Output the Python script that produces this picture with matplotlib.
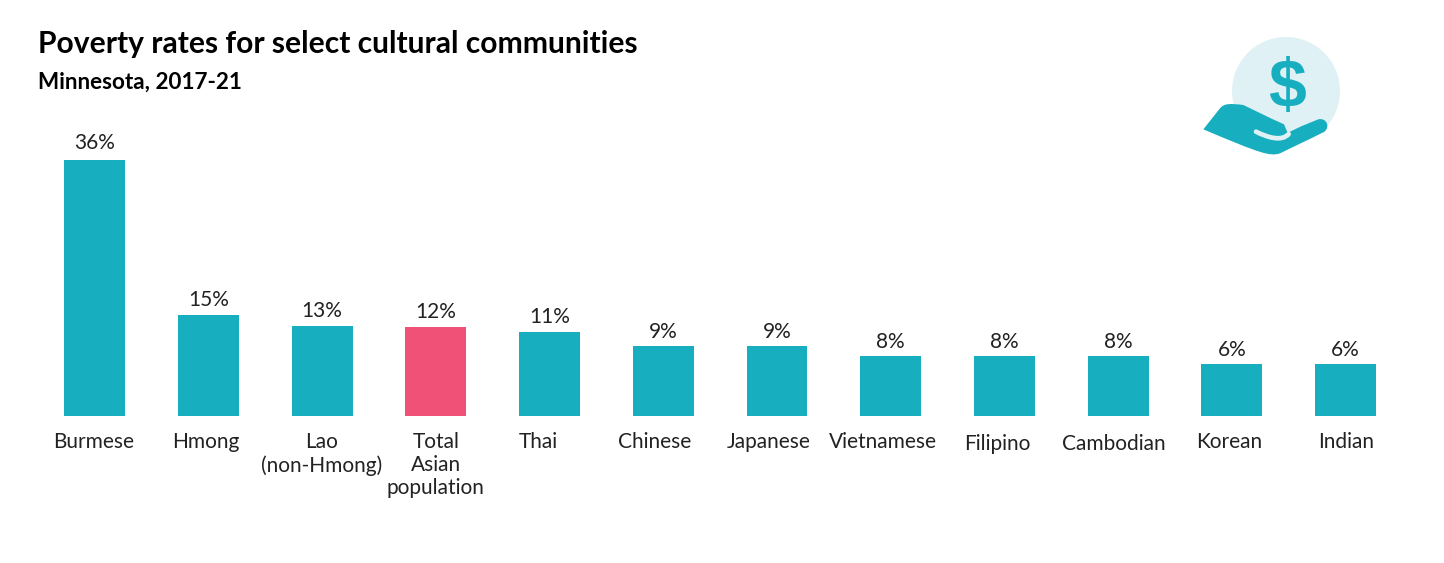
import numpy as np
import matplotlib
matplotlib.use("Agg")
import matplotlib.pyplot as plt
from matplotlib.path import Path
from matplotlib.patches import PathPatch, Circle

communities = ["Burmese", "Hmong", "Lao\n(non-Hmong)", "Total\nAsian\npopulation", "Thai", "Chinese",
               "Japanese", "Vietnamese", "Filipino", "Cambodian", "Korean", "Indian"]
heights = [36.0, 14.2, 12.6, 12.5, 11.8, 9.8, 9.8, 8.4, 8.4, 8.4, 7.25, 7.25]
value_labels = ["36%", "15%", "13%", "12%", "11%", "9%", "9%", "8%", "8%", "8%", "6%", "6%"]

TEAL = "#17aebf"
PINK = "#f05277"
PALE = "#dff1f4"

W, H = 1444, 563
plt.rcParams["font.family"] = ["Lato", "DejaVu Sans"]

fig = plt.figure(figsize=(W / 100, H / 100), dpi=100)

# axes placed so 0 sits at y=415.5px and one category step is 113.73px
left, right = 38, 1403
bottom, top = 415.5, 120
ax = fig.add_axes([left / W, 1 - bottom / H, (right - left) / W, (bottom - top) / H])
ax.set_xlim((left - 94.6) / 113.73, (right - 94.6) / 113.73)
ax.set_ylim(0, (bottom - top) / 7.1)
ax.axis("off")

x = np.arange(len(communities))
colors = [PINK if c.startswith("Total") else TEAL for c in communities]
ax.bar(x, heights, width=0.536, color=colors)

# gap between bar top and value label, in pixels
value_gap = [7, 5, 5, 5, 5, 4, 4, 4, 4, 4, 4, 4]
for xi, h, lab, gap in zip(x, heights, value_labels, value_gap):
    ax.annotate(lab, (xi, h), xytext=(0, gap), textcoords="offset pixels", ha="center", va="bottom",
                fontsize=15, color="#222222")

# the category labels do not sit exactly under their bars in the original
label_nudge = [-1, -3, 0, 0, -11, -9, -8, -8, -7, -4, -3, 0]
label_drop = [17, 17, 17, 17, 17, 17, 16, 17, 18, 18, 17, 17]
for xi, c, dx, dy in zip(x, communities, label_nudge, label_drop):
    ax.annotate(c, (xi, 0), xytext=(dx, -dy), textcoords="offset pixels", ha="center", va="top",
                fontsize=15, color="#222222", linespacing=1.18)

fig.text(38 / W, 1 - 44 / H, "Poverty rates for select cultural communities", fontsize=21.6,
         fontweight="bold", color="black", va="center", ha="left")
fig.text(38 / W, 1 - 82 / H, "Minnesota, 2017-21", fontsize=16.2, fontweight="bold",
         color="black", va="center", ha="left")

# icon, in pixel coordinates
icon = fig.add_axes([0, 0, 1, 1], zorder=3)
icon.set_xlim(0, W)
icon.set_ylim(H, 0)
icon.axis("off")
icon.patch.set_alpha(0)


def zp(px, py):
    return 1180 + px / 3, 20 + py / 3


icon.add_patch(Circle((1286, 91), 54, color=PALE, lw=0))
icon.text(1287, 89, "$", fontsize=49, fontweight="bold", color=TEAL, ha="center", va="center",
          family="Liberation Sans")

verts = [(70, 328), (120, 265), (132, 250), (150, 250), (190, 255), (250, 285), (295, 305),
         (312, 313), (318, 325), (320, 338), (326, 338), (330, 335), (335, 330),
         (415, 298), (440, 292), (452, 322), (432, 336), (300, 400), (270, 410), (240, 400), (70, 328)]
codes = [Path.MOVETO, Path.LINETO, Path.CURVE4, Path.CURVE4, Path.CURVE4, Path.CURVE4, Path.CURVE4,
         Path.CURVE4, Path.CURVE4, Path.CURVE4, Path.CURVE4, Path.CURVE4, Path.CURVE4,
         Path.LINETO, Path.CURVE4, Path.CURVE4, Path.CURVE4, Path.LINETO, Path.CURVE4, Path.CURVE4, Path.LINETO]
icon.add_patch(PathPatch(Path([zp(*v) for v in verts], codes), facecolor=TEAL, lw=0))

finger = [(228, 335), (262, 352), (305, 366), (326, 342)]
icon.add_patch(PathPatch(Path([zp(*v) for v in finger], [Path.MOVETO, Path.CURVE4, Path.CURVE4, Path.CURVE4]),
                         facecolor="none", edgecolor=PALE, lw=3.4, capstyle="round"))

fig.savefig("out.png", dpi=100)
